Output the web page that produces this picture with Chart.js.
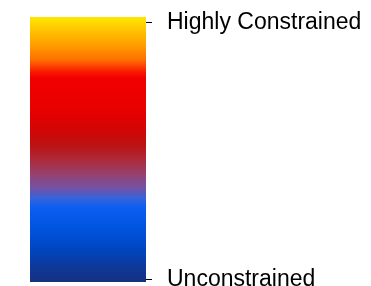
<!DOCTYPE html>
<html>
<head>
<meta charset="utf-8">
<script src="https://cdn.jsdelivr.net/npm/chart.js@4/dist/chart.umd.min.js"></script>
<style>
html,body{margin:0;padding:0;background:#fff;}
#wrap{width:371px;height:286px;}
</style>
</head>
<body>
<div id="wrap"><canvas id="c" width="371" height="286"></canvas></div>
<script>
// Data
const categories = ["Constraint"];
const barRange = [[0, 100]];
const tickValues = [1, 97.8];
const tickLabels = ["Unconstrained", "Highly Constrained"];

// Colour ramp (offset from top of bar, colour)
const rampOffsets = [0, 0.049, 0.106, 0.162, 0.208, 0.23, 0.351, 0.426, 0.483, 0.54, 0.596, 0.645, 0.683, 0.721, 0.804, 0.879, 0.947, 1];
const rampColors = ["#FFE800", "#FFC400", "#FF9E00", "#FF6E00", "#F81800", "#F20000", "#E80000", "#D20505", "#BC1212", "#AD2A3A", "#954272", "#7452A5", "#3862DA", "#0A5EF2", "#0053DC", "#0045BE", "#0E3898", "#16307E"];

function rampFill(ctx) {
  const chart = ctx.chart;
  const a = chart.chartArea;
  if (!a) return rampColors[0];
  const g = chart.ctx.createLinearGradient(0, a.top, 0, a.bottom);
  rampOffsets.forEach((o, i) => g.addColorStop(o, rampColors[i]));
  return g;
}

new Chart(document.getElementById('c'), {
  type: 'bar',
  data: {
    labels: categories,
    datasets: [{
      data: barRange,
      backgroundColor: rampFill,
      borderWidth: 0,
      barPercentage: 1,
      categoryPercentage: 1
    }]
  },
  options: {
    responsive: false,
    animation: false,
    devicePixelRatio: 1,
    layout: { padding: { left: 30, top: 17, bottom: 4, right: 0 } },
    plugins: { legend: { display: false }, tooltip: { enabled: false } },
    scales: {
      x: { display: false },
      y: {
        position: 'right',
        min: 0,
        max: 100,
        afterBuildTicks: (s) => { s.ticks = tickValues.map(v => ({ value: v })); },
        afterFit: (s) => { s.width = 225; s.paddingTop = 0; s.paddingBottom = 0; },
        border: { display: false },
        grid: { drawOnChartArea: false, drawTicks: true, tickLength: 6, color: '#000', lineWidth: 1 },
        ticks: {
          padding: 15,
          color: '#000',
          font: { family: 'Liberation Sans, Arial, sans-serif', size: 23 },
          callback: (v) => tickLabels[tickValues.indexOf(v)]
        }
      }
    }
  }
});
</script>
</body>
</html>
